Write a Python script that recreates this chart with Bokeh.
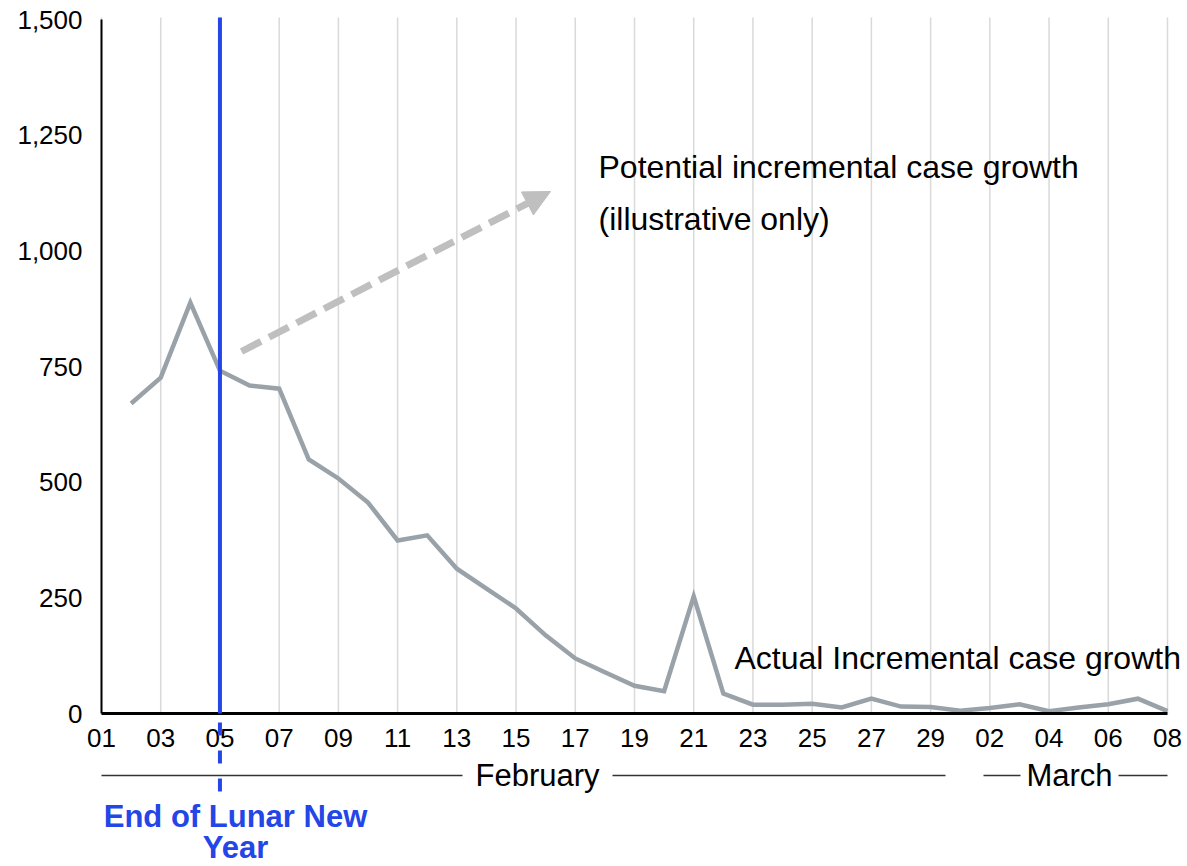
from bokeh.plotting import figure
from bokeh.models import (Range1d, FixedTicker, NumeralTickFormatter, Label,
                          Arrow, NormalHead, ColumnDataSource)
from bokeh.embed import file_html
from bokeh.resources import INLINE

# ---- data ----
feb_days = list(range(1, 30))          # Feb 2020: 01..29
mar_days = list(range(1, 9))           # Mar 2020: 01..08
day_labels = [f"{d:02d}" for d in feb_days] + [f"{d:02d}" for d in mar_days]
day_index = list(range(len(day_labels)))          # 0 = Feb 01 ... 36 = Mar 08

# actual incremental cases, Feb 02 .. Mar 08
case_index = day_index[1:]
cases = [670, 726, 888, 741, 709, 702, 549, 508, 456, 374, 385, 313, 270, 227,
         169, 119, 89, 60, 48, 253, 43, 19, 19, 21, 13, 32, 15, 14, 6, 12, 20,
         5, 13, 20, 32, 5]

lny_index = 4                      # Feb 05: end of Lunar New Year
y_ticks = [0, 250, 500, 750, 1000, 1250, 1500]
y_max = 1500

# ---- layout (pixels) ----
W, H = 1187, 866
X0_PX, X1_PX = 101, 1167           # where first / last day sit
Y0_PX, Y1_PX = 713, 19             # where 0 / y_max sit
n_days = day_index[-1]
ppx = (X1_PX - X0_PX) / n_days
ppy = (Y0_PX - Y1_PX) / y_max


def dx(px):          # pixel column -> day coordinate
    return (px - X0_PX) / ppx


def dy(px):          # pixel row -> value coordinate
    return (Y0_PX - px) / ppy


FONT = "Liberation Sans"
GREY_LINE = "#9aa2a9"
BLUE = "#2446e6"

p = figure(width=W, height=H, output_backend="svg", toolbar_location=None,
           x_range=Range1d(dx(0), dx(W)), y_range=Range1d(dy(H), dy(0)),
           min_border=0)
p.outline_line_color = None
p.background_fill_color = "white"
p.grid.grid_line_color = None

# axes drawn inside the frame at the data origin
tick_pos = day_index[::2]
p.xaxis.ticker = FixedTicker(ticks=tick_pos)
p.xaxis.major_label_overrides = {i: day_labels[i] for i in tick_pos}
p.xaxis.fixed_location = 0
p.xaxis.bounds = (0, n_days)
p.yaxis.ticker = FixedTicker(ticks=y_ticks)
p.yaxis.formatter = NumeralTickFormatter(format="0,0")
p.yaxis.fixed_location = 0
p.yaxis.bounds = (0, y_max)
for ax in (p.xaxis[0], p.yaxis[0]):
    ax.major_tick_line_color = None
    ax.minor_tick_line_color = None
    ax.major_tick_out = 0
    ax.major_tick_in = 0
    ax.minor_tick_out = 0
    ax.minor_tick_in = 0
    ax.axis_line_color = "black"
    ax.major_label_text_font = FONT
    ax.major_label_text_font_size = "26px"
    ax.major_label_text_color = "black"
p.yaxis.axis_line_width = 2
p.xaxis.axis_line_width = 3
p.yaxis.major_label_standoff = 19
p.xaxis.major_label_standoff = 15

# vertical gridlines at the tick days
p.segment(x0=tick_pos, y0=[0] * len(tick_pos), x1=tick_pos,
          y1=[dy(17)] * len(tick_pos), line_color="#d9d9d9", line_width=1.5,
          level="underlay")

# data line
src = ColumnDataSource(dict(x=case_index, y=cases))
p.line("x", "y", source=src, line_color=GREY_LINE, line_width=4.5, line_join="miter")

# illustrative dashed arrow
p.add_layout(Arrow(x_start=dx(241), y_start=dy(351), x_end=dx(550), y_end=dy(191),
                   line_color="#bfbfbf", line_width=7, line_dash="22 9",
                   end=NormalHead(size=26, fill_color="#bfbfbf", line_color="#bfbfbf")))

# end of lunar new year marker
p.add_layout(Arrow(x_start=lny_index, y_start=dy(17), x_end=lny_index, y_end=0,
                   line_color=BLUE, line_width=4, end=None))
p.add_layout(Arrow(x_start=lny_index, y_start=dy(722), x_end=lny_index, y_end=dy(796),
                   line_color=BLUE, line_width=4, line_dash="13 15", end=None))

# texts
txt = dict(text_font=FONT, text_color="black", text_baseline="middle")
p.add_layout(Label(x=dx(598), y=dy(166), text="Potential incremental case growth",
                   text_font_size="32px", **txt))
p.add_layout(Label(x=dx(598), y=dy(218), text="(illustrative only)",
                   text_font_size="32px", **txt))
p.add_layout(Label(x=dx(734), y=dy(657), text="Actual Incremental case growth",
                   text_font_size="32px", **txt))

# month brackets
month_y = dy(775)
month_line = dict(line_color="#333333", line_width=1.5, end=None)
for a, b in [(101, 462), (612, 945), (983, 1020), (1118, 1167)]:
    p.add_layout(Arrow(x_start=dx(a), y_start=month_y, x_end=dx(b), y_end=month_y,
                       **month_line))
p.add_layout(Label(x=dx(537), y=month_y, text="February", text_align="center",
                   text_font_size="31px", **txt))
p.add_layout(Label(x=dx(1069), y=month_y, text="March", text_align="center",
                   text_font_size="31px", **txt))

blue_txt = dict(text_font=FONT, text_color=BLUE, text_font_style="bold",
                text_baseline="middle", text_align="center", text_font_size="31px")
p.add_layout(Label(x=dx(235), y=dy(816), text="End of Lunar New", **blue_txt))
p.add_layout(Label(x=dx(235), y=dy(847), text="Year", **blue_txt))

open("out.html", "w").write(file_html(p, INLINE))
